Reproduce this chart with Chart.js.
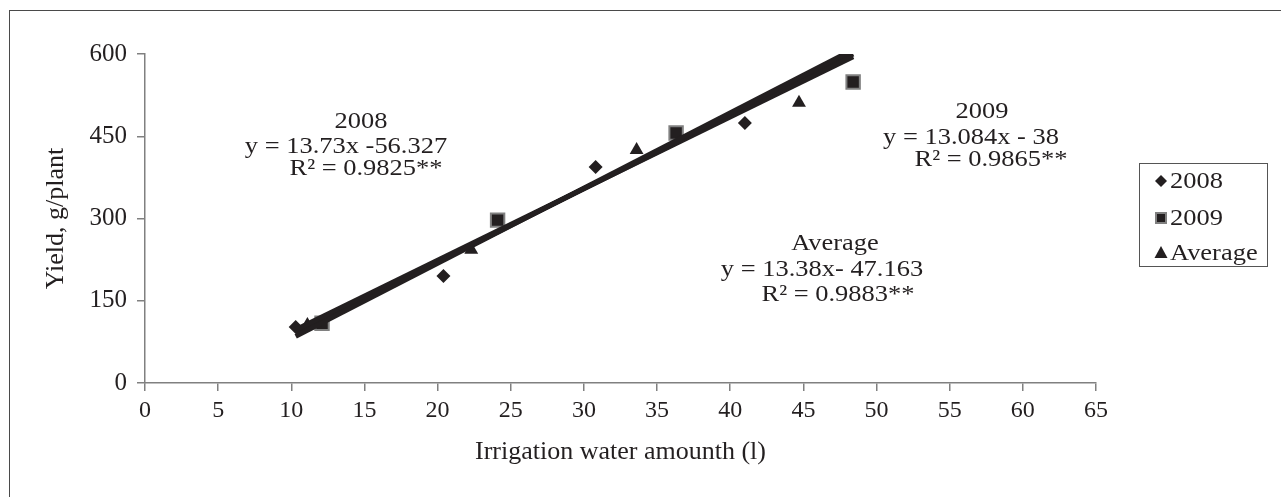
<!DOCTYPE html>
<html>
<head>
<meta charset="utf-8">
<script src="https://cdn.jsdelivr.net/npm/chart.js@4.4.1/dist/chart.umd.min.js"></script>
<style>
    html, body { margin: 0; padding: 0; background: #fff; overflow: hidden; }
    #marco { position: absolute; left: 9px; top: 10px; width: 1300px; height: 520px; border: 1px solid #4a4a4a; }
    #lienzo { position: absolute; left: 0; top: 0; }
</style>
</head>
<body>
<div id="marco"></div>
<canvas id="lienzo" width="1281" height="497"></canvas>
<script>
// datos
const agua2008 = [10.3, 20.4, 30.8, 41.0];
const rend2008 = [102, 195, 394, 474];
const agua2009 = [12.1, 24.1, 36.3, 48.4];
const rend2009 = [109, 297, 456, 549];
const aguaProm = [11.1, 22.3, 33.6, 44.7];
const rendProm = [106, 243, 425, 511];

// extremos de las lineas de tendencia
const tendX = [10.3, 48.4];
const tend2008 = [85, 608];
const tend2009 = [97, 595];
const tendProm = [91, 600];

const ticksX = [0, 5, 10, 15, 20, 25, 30, 35, 40, 45, 50, 55, 60, 65];
const ticksY = [0, 150, 300, 450, 600];

const nota2008 = ["2008", "y = 13.73x -56.327", "R² = 0.9825**"];
const nota2009 = ["2009", "y = 13.084x - 38", "R² = 0.9865**"];
const notaProm = ["Average", "y = 13.38x- 47.163", "R² = 0.9883**"];

const NEGRO = "#231f20";
const GRIS = "#808080";
const FUENTE = '"Liberation Serif", "Times New Roman", serif';

const puntos = (xs, ys) => xs.map((x, i) => ({ x, y: ys[i] }));

function texto(ctx, s, x, y, alinear = "center") {
    ctx.save();
    ctx.translate(x, y);
    ctx.scale(1.15, 1);
    ctx.font = "23px " + FUENTE;
    ctx.fillStyle = NEGRO;
    ctx.textAlign = alinear;
    ctx.textBaseline = "alphabetic";
    ctx.fillText(s, 0, 0);
    ctx.restore();
}

function marcador(ctx, tipo, x, y) {
    ctx.save();
    ctx.fillStyle = NEGRO;
    ctx.beginPath();
    if (tipo === "rombo") {
        ctx.moveTo(x - 6, y); ctx.lineTo(x, y - 6); ctx.lineTo(x + 6, y); ctx.lineTo(x, y + 6);
        ctx.closePath(); ctx.fill();
    } else if (tipo === "cuadro") {
        ctx.rect(x - 5, y - 5, 10, 10);
        ctx.fill();
        ctx.strokeStyle = GRIS; ctx.lineWidth = 2; ctx.stroke();
    } else {
        ctx.moveTo(x, y - 7); ctx.lineTo(x + 6.5, y + 5); ctx.lineTo(x - 6.5, y + 5);
        ctx.closePath(); ctx.fill();
    }
    ctx.restore();
}

const notas = {
    id: "notas",
    afterDraw(chart) {
        const ctx = chart.ctx;
        // ecuaciones
        [[nota2008, [361, 346, 366], [128, 153, 175]],
         [nota2009, [982, 971, 991], [118, 144, 166]],
         [notaProm, [835, 822, 838], [250, 276, 301]]].forEach(([lineas, xs, ys]) => {
            lineas.forEach((l, i) => texto(ctx, l, xs[i], ys[i]));
        });
        // leyenda
        ctx.save();
        ctx.strokeStyle = "#555";
        ctx.lineWidth = 1;
        ctx.strokeRect(1139.5, 163.5, 128, 103);
        ctx.restore();
        const filas = [["rombo", "2008", 188], ["cuadro", "2009", 225], ["triangulo", "Average", 260]];
        filas.forEach(([tipo, t, y]) => {
            marcador(ctx, tipo, 1161, y - 7);
            texto(ctx, t, 1170, y, "left");
        });
    },
};

const ejeX = {
    type: "linear", min: 0, max: 65,
    afterBuildTicks: (s) => { s.ticks = ticksX.map((v) => ({ value: v })); },
    afterFit: (s) => { s.height = 114; },
    grid: { drawOnChartArea: false, tickLength: 8, color: GRIS, lineWidth: 1.5 },
    border: { color: GRIS, width: 1.5 },
    ticks: { padding: 5, color: NEGRO, font: { family: FUENTE, size: 24 } },
    title: { display: true, text: "Irrigation water amounth (l)", color: NEGRO,
        font: { family: FUENTE, size: 26 }, padding: { top: 0, bottom: 29 } },
};

const ejeY = {
    type: "linear", min: 0, max: 600,
    afterBuildTicks: (s) => { s.ticks = ticksY.map((v) => ({ value: v })); },
    afterFit: (s) => { s.width = 135; },
    grid: { drawOnChartArea: false, tickLength: 8, color: GRIS, lineWidth: 1.5 },
    border: { color: GRIS, width: 1.5 },
    ticks: { padding: 10, color: NEGRO, font: { family: FUENTE, size: 25 } },
    title: { display: true, text: "Yield, g/plant", color: NEGRO,
        font: { family: FUENTE, size: 26 }, padding: { top: 31, bottom: 0 } },
};

const linea = (ys) => ({
    data: puntos(tendX, ys), showLine: true, pointRadius: 0,
    borderColor: NEGRO, borderWidth: 5, clip: 0, order: 0,
});

new Chart(document.getElementById("lienzo"), {
    type: "scatter",
    data: {
        datasets: [
            { label: "2008", data: puntos(agua2008, rend2008), pointStyle: "rectRot", pointRadius: 7,
              backgroundColor: NEGRO, borderWidth: 0, order: 1 },
            { label: "2009", data: puntos(agua2009, rend2009), pointStyle: "rect", pointRadius: 9.5,
              backgroundColor: NEGRO, borderColor: GRIS, borderWidth: 2, order: 1 },
            { label: "Average", data: puntos(aguaProm, rendProm), pointStyle: "triangle", pointRadius: 8,
              backgroundColor: NEGRO, borderWidth: 0, order: 1 },
            linea(tend2008),
            linea(tend2009),
            linea(tendProm),
        ],
    },
    options: {
        responsive: false,
        animation: false,
        layout: { padding: { left: 10, top: 54, right: 185, bottom: 0 } },
        plugins: { legend: { display: false }, tooltip: { enabled: false } },
        scales: { x: ejeX, y: ejeY },
    },
    plugins: [notas],
});
</script>
</body>
</html>
